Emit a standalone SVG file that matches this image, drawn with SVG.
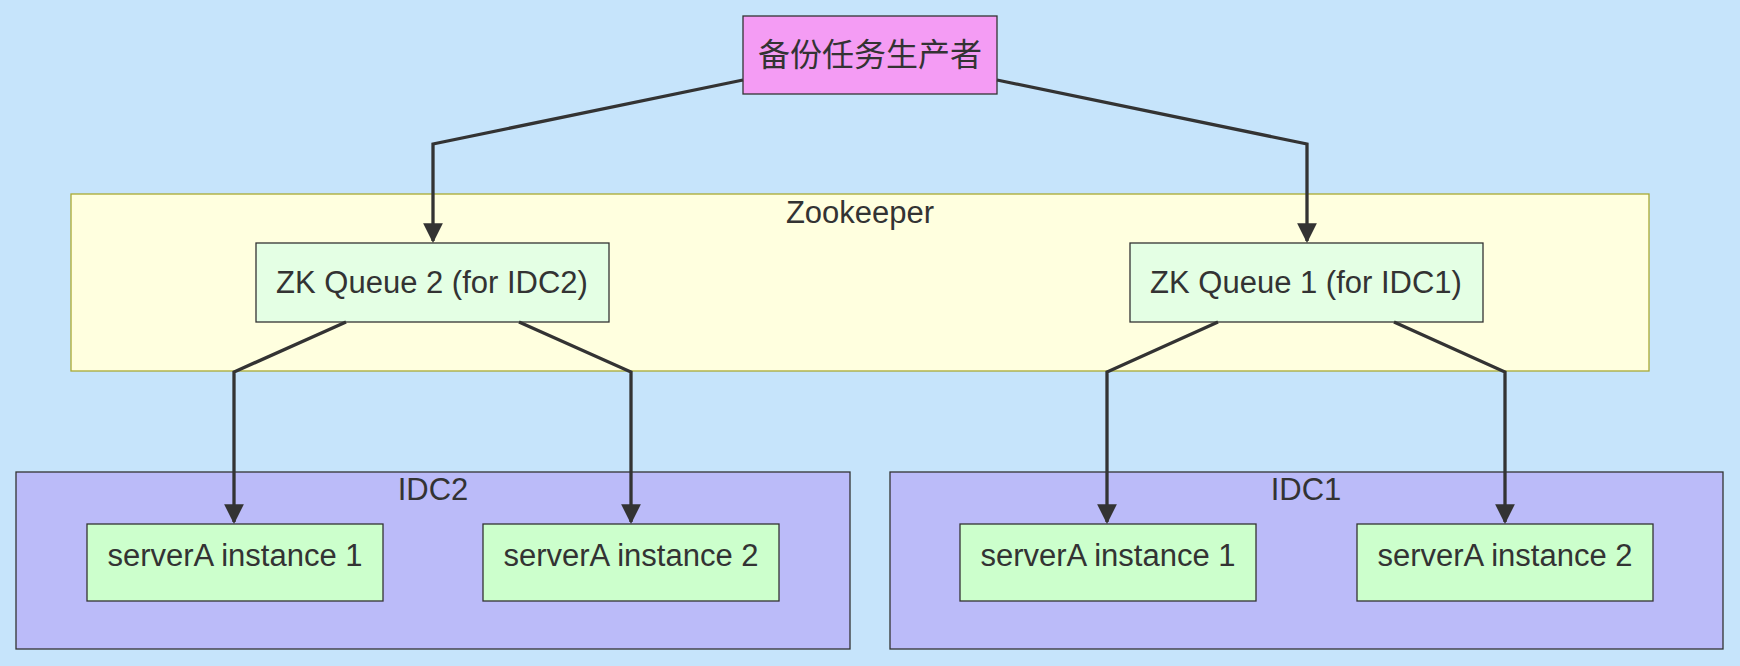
<svg xmlns="http://www.w3.org/2000/svg" width="1740" height="666" viewBox="0 0 1740 666">
<defs>
<marker id="ah" viewBox="0 0 10 10" refX="9" refY="5" markerWidth="6" markerHeight="7" orient="auto-start-reverse" markerUnits="strokeWidth"><path d="M0,0 L10,5 L0,10 z" fill="#333"/></marker>
<style>
text{font-family:"Liberation Sans","Noto Sans CJK SC",sans-serif;font-size:31px;fill:#333;text-anchor:middle;dominant-baseline:central}
.n{stroke:#333;stroke-width:1.3}
.e{fill:none;stroke:#333;stroke-width:3.3;marker-end:url(#ah)}
</style>
</defs>
<rect width="1740" height="666" fill="#c6e4fb"/>
<g id="zookeeper"><rect x="71" y="194" width="1578" height="177" fill="#ffffdf" stroke="#aaaa33" stroke-width="1.3"/><text x="860" y="212">Zookeeper</text></g>
<g id="idc2"><rect x="16" y="472" width="834" height="177" fill="#bbbbf9" stroke="#333" stroke-width="1.3"/><text x="433" y="489">IDC2</text></g>
<g id="idc1"><rect x="890" y="472" width="833" height="177" fill="#bbbbf9" stroke="#333" stroke-width="1.3"/><text x="1306" y="489">IDC1</text></g>
<g id="producer"><rect class="n" x="743" y="16" width="254" height="78" fill="#f49cf4"/><text x="870" y="55" style="font-size:32px">备份任务生产者</text></g>
<g id="zkq2"><rect class="n" x="256" y="243" width="353" height="79" fill="#e4ffe4"/><text x="432" y="282">ZK Queue 2 (for IDC2)</text></g>
<g id="zkq1"><rect class="n" x="1130" y="243" width="353" height="79" fill="#e4ffe4"/><text x="1306" y="282">ZK Queue 1 (for IDC1)</text></g>
<g id="idc2s1"><rect class="n" x="87" y="524" width="296" height="77" fill="#ccffcc"/><text x="235" y="555">serverA instance 1</text></g>
<g id="idc2s2"><rect class="n" x="483" y="524" width="296" height="77" fill="#ccffcc"/><text x="631" y="555">serverA instance 2</text></g>
<g id="idc1s1"><rect class="n" x="960" y="524" width="296" height="77" fill="#ccffcc"/><text x="1108" y="555">serverA instance 1</text></g>
<g id="idc1s2"><rect class="n" x="1357" y="524" width="296" height="77" fill="#ccffcc"/><text x="1505" y="555">serverA instance 2</text></g>
<g id="connectors">
<path class="e" d="M743,80 L433,144 L433,241"/>
<path class="e" d="M997,80 L1307,144 L1307,241"/>
<path class="e" d="M346,322 L234,372 L234,522"/>
<path class="e" d="M519,322 L631,372 L631,522"/>
<path class="e" d="M1218,322 L1107,372 L1107,522"/>
<path class="e" d="M1394,322 L1505,372 L1505,522"/>
</g>
</svg>
